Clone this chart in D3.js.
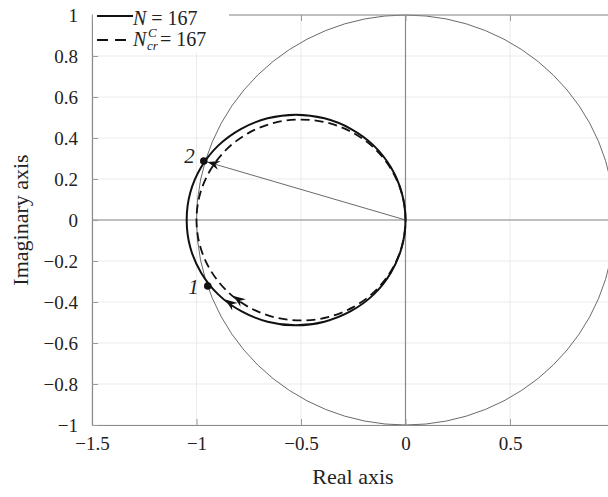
<!DOCTYPE html>
<html>
<head>
<meta charset="utf-8">
<script src="https://cdn.jsdelivr.net/npm/d3@7"></script>
<style>
  body { margin: 0; background: #fff; }
  svg { display: block; }
  svg text { font-family: "Liberation Serif", "Times New Roman", serif !important; }
</style>
</head>
<body>
<svg id="chart" width="608" height="497"></svg>
<script>
// tick labels
var reTicks = [-1.5, -1, -0.5, 0, 0.5];
var imTicks = [-1, -0.8, -0.6, -0.4, -0.2, 0, 0.2, 0.4, 0.6, 0.8, 1];

// Nyquist locus, N = 167
var solidRe = [0, -0.018, -0.070, -0.153, -0.262, -0.388, -0.524, -0.660, -0.786, -0.895, -0.978, -1.030,
               -1.047, -1.030, -0.978, -0.895, -0.786, -0.660, -0.524, -0.388, -0.262, -0.153, -0.070, -0.018];
var solidIm = [0, 0.133, 0.257, 0.364, 0.445, 0.496, 0.514, 0.496, 0.445, 0.364, 0.257, 0.133,
               0, -0.133, -0.257, -0.364, -0.445, -0.496, -0.514, -0.496, -0.445, -0.364, -0.257, -0.133];
// Nyquist locus, N_cr^C = 167
var dashRe = [0, -0.017, -0.067, -0.146, -0.250, -0.371, -0.500, -0.629, -0.750, -0.854, -0.933, -0.983,
              -1.000, -0.983, -0.933, -0.854, -0.750, -0.629, -0.500, -0.371, -0.250, -0.146, -0.067, -0.017];
var dashIm = [0, 0.127, 0.245, 0.347, 0.425, 0.474, 0.490, 0.474, 0.425, 0.347, 0.245, 0.127,
              0, -0.127, -0.245, -0.347, -0.425, -0.474, -0.490, -0.474, -0.425, -0.347, -0.245, -0.127];

// marked points 1 and 2
var ptLabels = ["1", "2"];
var ptRe = [-0.946, -0.965];
var ptIm = [-0.322, 0.288];

var arrowSeg = [16, 15];   // arrow on each locus sits between these samples (direction of travel)

var svg = d3.select("#chart");
var x = d3.scaleLinear().domain([-1.5, 1]).range([92, 614.5]);
var y = d3.scaleLinear().domain([-1, 1]).range([425, 15]);
var minus = d => d3.format("")(d).replace("-", "\u2212");

// grid
svg.append("g").selectAll("line").data(reTicks).join("line")
   .attr("x1", d => x(d)).attr("x2", d => x(d)).attr("y1", y(-1)).attr("y2", y(1))
   .attr("stroke", "#ebebeb").attr("stroke-width", 1);
svg.append("g").selectAll("line").data(imTicks).join("line")
   .attr("x1", x(-1.5)).attr("x2", 608).attr("y1", d => y(d)).attr("y2", d => y(d))
   .attr("stroke", "#ebebeb").attr("stroke-width", 1);

// zero lines
svg.append("line").attr("x1", x(0)).attr("x2", x(0)).attr("y1", y(-1)).attr("y2", y(1))
   .attr("stroke", "#8a8a8a").attr("stroke-width", 1.2);
svg.append("line").attr("x1", x(-1.5)).attr("x2", 608).attr("y1", y(0)).attr("y2", y(0))
   .attr("stroke", "#8a8a8a").attr("stroke-width", 1.2);

// unit circle
svg.append("ellipse").attr("cx", x(0)).attr("cy", y(0))
   .attr("rx", x(1) - x(0)).attr("ry", y(0) - y(1))
   .attr("fill", "none").attr("stroke", "#444").attr("stroke-width", 0.8);

// axes
var gx = svg.append("g").attr("transform", "translate(0," + y(-1) + ")")
   .call(d3.axisBottom(x).tickValues(reTicks).tickSizeInner(-6).tickSizeOuter(0).tickFormat(minus).tickPadding(12));
var gy = svg.append("g").attr("transform", "translate(" + x(-1.5) + ",0)")
   .call(d3.axisLeft(y).tickValues(imTicks).tickSizeInner(-6).tickSizeOuter(0).tickFormat(minus).tickPadding(14));
var gt = svg.append("g").attr("transform", "translate(0," + y(1) + ")")
   .call(d3.axisTop(x).tickValues(reTicks).tickSizeInner(-6).tickSizeOuter(0).tickFormat(""));
[gx, gy, gt].forEach(function(g){
  g.attr("font-family", null);
  g.select(".domain").attr("stroke", "#8a8a8a").attr("stroke-width", 1.2);
  g.selectAll(".tick line").attr("stroke", "#9a9a9a");
  g.selectAll("text").attr("font-size", 19).attr("fill", "#222");
});
gt.select(".domain").attr("d", "M" + x(-1.5) + ",0H608");

// loci
var line = d3.line().x(d => x(d[0])).y(d => y(d[1])).curve(d3.curveCatmullRomClosed);
var solidPts = d3.zip(solidRe, solidIm);
var dashPts = d3.zip(dashRe, dashIm);
svg.append("path").datum(solidPts).attr("d", line)
   .attr("fill", "none").attr("stroke", "#111").attr("stroke-width", 2);
svg.append("path").datum(dashPts).attr("d", line)
   .attr("fill", "none").attr("stroke", "#111").attr("stroke-width", 1.8).attr("stroke-dasharray", "9,5");

// vector from origin to point 2
svg.append("line").attr("x1", x(0)).attr("y1", y(0)).attr("x2", x(ptRe[1])).attr("y2", y(ptIm[1]))
   .attr("stroke", "#444").attr("stroke-width", 0.8);

function arrowHead(px, py, ang) {
  svg.append("path").attr("d", "M0,0L-12,-4.6L-8,0L-12,4.6Z")
     .attr("transform", "translate(" + px + "," + py + ") rotate(" + ang + ")")
     .attr("fill", "#111");
}
[solidPts, dashPts].forEach(function(pts){
  var a = pts[arrowSeg[0]], b = pts[arrowSeg[1]];
  var ax = x(a[0]), ay = y(a[1]), bx = x(b[0]), by = y(b[1]);
  var ang = Math.atan2(by - ay, bx - ax) * 180 / Math.PI;
  arrowHead((ax + bx) / 2 + 0.2 * (bx - ax), (ay + by) / 2 + 0.2 * (by - ay), ang);
});
(function(){
  var x0 = x(0), y0 = y(0), x1 = x(ptRe[1]), y1 = y(ptIm[1]);
  var ang = Math.atan2(y1 - y0, x1 - x0);
  arrowHead(x1 - 4 * Math.cos(ang), y1 - 4 * Math.sin(ang), ang * 180 / Math.PI);
})();

// points and labels
svg.append("g").selectAll("circle").data(ptLabels).join("circle")
   .attr("cx", (d, i) => x(ptRe[i])).attr("cy", (d, i) => y(ptIm[i])).attr("r", 3.8).attr("fill", "#111");
svg.append("g").selectAll("text").data(ptLabels).join("text")
   .attr("x", (d, i) => x(ptRe[i]) - 9).attr("y", (d, i) => y(ptIm[i]) + (i === 0 ? 8 : 2))
   .attr("text-anchor", "end").attr("font-style", "italic").attr("font-size", 21).attr("fill", "#222")
   .text(d => d);

// legend
var lg = svg.append("g");
lg.append("rect").attr("x", 93).attr("y", 13).attr("width", 136).attr("height", 40).attr("fill", "#fff");
lg.append("line").attr("x1", 97).attr("x2", 133).attr("y1", 16).attr("y2", 16)
  .attr("stroke", "#111").attr("stroke-width", 2);
lg.append("line").attr("x1", 97).attr("x2", 133).attr("y1", 40).attr("y2", 40)
  .attr("stroke", "#111").attr("stroke-width", 1.8).attr("stroke-dasharray", "11,7");
var t1 = lg.append("text").attr("x", 133).attr("y", 25).attr("font-size", 20).attr("fill", "#222");
t1.append("tspan").attr("font-style", "italic").text("N");
t1.append("tspan").text(" = 167");
lg.append("text").attr("x", 133).attr("y", 46).attr("font-size", 20).attr("font-style", "italic").attr("fill", "#222").text("N");
lg.append("text").attr("x", 148).attr("y", 37).attr("font-size", 13).attr("font-style", "italic").attr("fill", "#222").text("C");
lg.append("text").attr("x", 147).attr("y", 50).attr("font-size", 13).attr("font-style", "italic").attr("fill", "#222").text("cr");
lg.append("text").attr("x", 160).attr("y", 46).attr("font-size", 20).attr("fill", "#222").text("= 167");

// axis titles
svg.append("text").attr("x", 353).attr("y", 484).attr("text-anchor", "middle")
   .attr("font-size", 22).attr("fill", "#222").text("Real axis");
svg.append("text").attr("transform", "translate(28,220) rotate(-90)").attr("text-anchor", "middle")
   .attr("font-size", 22).attr("fill", "#222").text("Imaginary axis");
</script>
</body>
</html>
